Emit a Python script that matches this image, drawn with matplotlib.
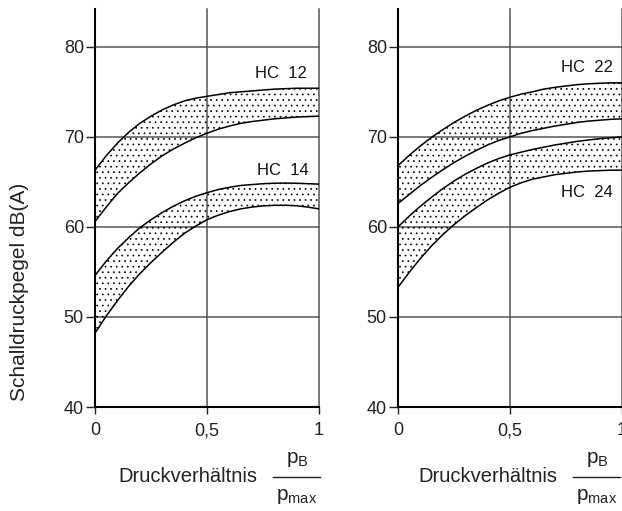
import matplotlib
matplotlib.use("Agg")
import matplotlib.pyplot as plt
from matplotlib.lines import Line2D

plt.rcParams['font.family'] = ['Liberation Sans', 'DejaVu Sans']
plt.rcParams['hatch.linewidth'] = 0.5
plt.rcParams['hatch.color'] = 'black'

# ---- data ----
x = [0.0, 0.05, 0.1, 0.15, 0.2, 0.25, 0.3, 0.35, 0.4, 0.45, 0.5,
     0.55, 0.6, 0.65, 0.7, 0.75, 0.8, 0.85, 0.9, 0.95, 1.0]

hc12_upper = [66.3, 67.9, 69.3, 70.5, 71.5, 72.3, 73.0, 73.55, 74.0, 74.3, 74.5,
              74.7, 74.9, 75.0, 75.1, 75.2, 75.3, 75.35, 75.4, 75.4, 75.4]
hc12_lower = [60.6, 62.2, 63.7, 64.9, 66.0, 67.0, 67.9, 68.65, 69.3, 69.9, 70.4,
              70.85, 71.2, 71.5, 71.7, 71.85, 72.0, 72.1, 72.2, 72.25, 72.3]
hc14_upper = [54.6, 56.2, 57.6, 58.8, 59.9, 60.8, 61.6, 62.3, 62.9, 63.4, 63.8,
              64.15, 64.4, 64.6, 64.7, 64.8, 64.85, 64.87, 64.85, 64.8, 64.75]
hc14_lower = [48.2, 50.1, 51.8, 53.4, 54.8, 56.05, 57.2, 58.3, 59.3, 60.1, 60.8,
              61.3, 61.7, 62.0, 62.2, 62.33, 62.4, 62.4, 62.35, 62.2, 62.0]

hc22_upper = [66.8, 67.95, 69.0, 69.95, 70.8, 71.6, 72.3, 72.95, 73.5, 74.0, 74.4,
              74.75, 75.0, 75.3, 75.5, 75.65, 75.8, 75.9, 75.95, 76.0, 76.0]
hc22_lower = [62.6, 63.6, 64.6, 65.5, 66.35, 67.15, 67.85, 68.5, 69.1, 69.6, 70.0,
              70.4, 70.7, 70.95, 71.2, 71.4, 71.6, 71.75, 71.85, 71.95, 72.0]
hc24_upper = [60.0, 61.2, 62.3, 63.3, 64.25, 65.1, 65.85, 66.5, 67.1, 67.6, 68.0,
              68.3, 68.6, 68.85, 69.1, 69.3, 69.5, 69.65, 69.8, 69.9, 70.0]
hc24_lower = [53.3, 54.95, 56.5, 57.9, 59.15, 60.25, 61.25, 62.15, 63.0, 63.75, 64.4,
              64.9, 65.3, 65.55, 65.8, 65.95, 66.1, 66.2, 66.25, 66.3, 66.3]

left_bands = [("HC  12", hc12_upper, hc12_lower, 0.83, 77.0),
              ("HC  14", hc14_upper, hc14_lower, 0.837, 66.25)]
right_bands = [("HC  22", hc22_upper, hc22_lower, 0.845, 77.7),
               ("HC  24", hc24_upper, hc24_lower, 0.845, 63.8)]

x_ticks = [0, 0.5, 1]
x_ticklabels = ["0", "0,5", "1"]
y_ticks = [40, 50, 60, 70, 80]
y_label = "Schalldruckpegel dB(A)"
x_label = "Druckverhältnis"

W, H = 622, 511
fig = plt.figure(figsize=(W / 100, H / 100), dpi=100)

def fx(px):
    return px / W

def fy(py):
    return 1 - py / H

ax_bottom = fy(407)
ax_h = fy(9) - fy(407)
ax_w = (319 - 95) / W
axL = fig.add_axes([fx(95), ax_bottom, ax_w, ax_h])
axR = fig.add_axes([fx(398), ax_bottom, ax_w, ax_h])

for ax, bands in [(axL, left_bands), (axR, right_bands)]:
    ax.set_xlim(0, 1)
    ax.set_ylim(40, 84.2)
    for sp in ['top', 'right']:
        ax.spines[sp].set_visible(False)
    for sp in ['left', 'bottom']:
        ax.spines[sp].set_linewidth(1.5)
        ax.spines[sp].set_color('black')
        ax.spines[sp].set_zorder(5)
    ax.set_xticks(x_ticks)
    ax.set_xticklabels(x_ticklabels)
    ax.set_yticks(y_ticks)
    ax.tick_params(axis='y', direction='out', length=6.5, width=1.0, pad=1.5,
                   labelsize=13, colors='#222222')
    ax.tick_params(axis='x', direction='out', length=5, width=1.0, pad=6,
                   labelsize=13, colors='#222222')
    ax.grid(True, color='#555555', linewidth=1.1, zorder=0)
    for gl in ax.get_xgridlines() + ax.get_ygridlines():
        gl.set_clip_on(False)
    ax.set_axisbelow(True)
    for label, up, lo, tx, ty in bands:
        ax.fill_between(x, lo, up, facecolor='none', edgecolor='black',
                        linewidth=0, hatch='...', zorder=2)
        ax.plot(x, up, color='black', linewidth=1.1, zorder=3)
        ax.plot(x, lo, color='black', linewidth=1.1, zorder=3)
        ax.text(tx, ty, label, ha='center', va='center', fontsize=12,
                color='#111111', zorder=4)

# y label
fig.text(fx(20), fy(292), y_label, rotation=90, ha='center', va='center',
         fontsize=15, color='#222222')

# x labels with fraction
for dx in [0, 300]:
    fig.text(fx(118 + dx), fy(476), x_label, ha='left', va='center',
             fontsize=14.5, color='#222222')
    fig.text(fx(297 + dx), fy(463), r'$\mathregular{p_B}$', ha='center',
             va='baseline', fontsize=15, color='#222222')
    fig.text(fx(297 + dx), fy(500), r'$\mathregular{p_{max}}$', ha='center',
             va='baseline', fontsize=15, color='#222222')
    fig.add_artist(Line2D([fx(273 + dx), fx(320 + dx)], [fy(477), fy(477)],
                          color='#222222', linewidth=1.0))

fig.savefig("out.png", dpi=100)
